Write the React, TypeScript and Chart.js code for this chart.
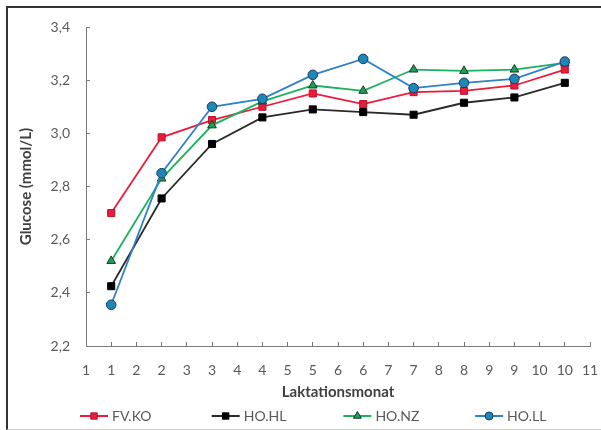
import React, { useEffect, useRef } from 'react';
import { Chart, registerables } from 'chart.js';
import { drawPoint } from 'chart.js/helpers';

Chart.register(...registerables);

const months = [1, 2, 3, 4, 5, 6, 7, 8, 9, 10];
const seriesNames = ['FV.KO', 'HO.HL', 'HO.NZ', 'HO.LL'];
const fvKo = [2.70, 2.985, 3.05, 3.10, 3.15, 3.11, 3.155, 3.16, 3.18, 3.24];
const hoHl = [2.425, 2.755, 2.96, 3.06, 3.09, 3.08, 3.07, 3.115, 3.135, 3.19];
const hoNz = [2.52, 2.83, 3.03, 3.12, 3.18, 3.16, 3.24, 3.235, 3.24, 3.265];
const hoLl = [2.355, 2.85, 3.10, 3.13, 3.22, 3.28, 3.17, 3.19, 3.205, 3.27];
const xTickLabels = ['1', '1', '2', '2', '3', '3', '4', '4', '5', '5', '6', '6', '7', '7', '8', '8', '9', '9', '10', '10', '11'];
const yTickLabels = ['2,2', '2,4', '2,6', '2,8', '3,0', '3,2', '3,4'];
const xTitle = 'Laktationsmonat';
const yTitle = 'Glucose (mmol/L)';

const FONT = 'Lato';

const toPoints = (vals: number[]) => months.map((m, i) => ({ x: m, y: vals[i] }));

const legendPlugin = {
  id: 'customLegend',
  afterDraw(chart: any) {
    const ctx = chart.ctx;
    const y = 416;
    const startX = 80;
    const step = 131.7;
    chart.data.datasets.forEach((ds: any, i: number) => {
      const x0 = startX + i * step;
      ctx.save();
      ctx.strokeStyle = ds.borderColor;
      ctx.lineWidth = 2;
      ctx.beginPath();
      ctx.moveTo(x0, y);
      ctx.lineTo(x0 + 28, y);
      ctx.stroke();
      ctx.fillStyle = ds.pointBackgroundColor;
      ctx.strokeStyle = ds.pointBorderColor;
      ctx.lineWidth = 1;
      drawPoint(ctx, { pointStyle: ds.pointStyle, radius: ds.pointStyle === 'circle' ? 4 : 4.5, rotation: 0, borderWidth: 1 }, x0 + 14, y);
      ctx.fillStyle = '#595959';
      ctx.font = `14px ${FONT}`;
      ctx.textBaseline = 'middle';
      ctx.textAlign = 'left';
      ctx.fillText(ds.label, x0 + 32, y);
      ctx.restore();
    });
  },
};

export default function App() {
  const ref = useRef<HTMLCanvasElement>(null);
  useEffect(() => {
    const chart = new Chart(ref.current as HTMLCanvasElement, {
      type: 'line',
      data: {
        datasets: [
          {
            label: seriesNames[0],
            data: toPoints(fvKo),
            borderColor: '#ec1b3b',
            backgroundColor: '#ec1b3b',
            pointBackgroundColor: '#ec1b3b',
            pointBorderColor: '#b8122c',
            pointStyle: 'rect',
            pointRadius: 5,
            borderWidth: 1.8,
            pointBorderWidth: 1,
            order: 4,
          },
          {
            label: seriesNames[1],
            data: toPoints(hoHl),
            borderColor: '#2a2a2a',
            backgroundColor: '#000000',
            pointBackgroundColor: '#000000',
            pointBorderColor: '#000000',
            pointStyle: 'rect',
            pointRadius: 5,
            borderWidth: 1.8,
            pointBorderWidth: 1,
            order: 3,
          },
          {
            label: seriesNames[2],
            data: toPoints(hoNz),
            borderColor: '#1ab25e',
            backgroundColor: '#1f9e5a',
            pointBackgroundColor: '#1f9e5a',
            pointBorderColor: '#143a24',
            pointStyle: 'triangle',
            pointRadius: 5,
            borderWidth: 1.8,
            pointBorderWidth: 1,
            order: 2,
          },
          {
            label: seriesNames[3],
            data: toPoints(hoLl),
            borderColor: '#2f80c8',
            backgroundColor: '#1d88b8',
            pointBackgroundColor: '#1d88b8',
            pointBorderColor: '#1b3a5a',
            pointStyle: 'circle',
            pointRadius: 4.8,
            borderWidth: 1.8,
            pointBorderWidth: 1,
            order: 1,
          },
        ],
      },
      options: {
        responsive: false,
        animation: false,
        devicePixelRatio: 1,
        layout: { padding: { top: 27, bottom: 28, right: 11, left: 0 } },
        plugins: {
          legend: { display: false },
          tooltip: { enabled: false },
        },
        elements: { line: { tension: 0 } },
        scales: {
          x: {
            type: 'linear',
            min: 0.5,
            max: 10.5,
            afterFit(scale: any) {
              scale.height = 56;
              scale.paddingLeft = 0;
              scale.paddingRight = 0;
            },
            ticks: {
              stepSize: 0.5,
              autoSkip: false,
              maxRotation: 0,
              padding: 20,
              color: '#595959',
              font: { family: FONT, size: 14 },
              callback: (_v: any, i: number) => xTickLabels[i] ?? '',
            },
            grid: { drawOnChartArea: false, drawTicks: true, tickLength: -4, color: '#7a7a7a' },
            border: { color: '#7a7a7a', width: 1 },
            title: {
              display: true,
              text: xTitle,
              color: '#404040',
              font: { family: FONT, size: 15, weight: 'bold' },
              padding: { top: 0, bottom: 1 },
            },
          },
          y: {
            type: 'linear',
            min: 2.2,
            max: 3.4,
            afterFit(scale: any) {
              scale.width = 86;
              scale.paddingTop = 0;
              scale.paddingBottom = 0;
            },
            ticks: {
              stepSize: 0.2,
              padding: 20,
              color: '#595959',
              font: { family: FONT, size: 14 },
              callback: (_v: any, i: number) => yTickLabels[i] ?? '',
            },
            grid: { drawOnChartArea: false, drawTicks: true, tickLength: -4, color: '#7a7a7a' },
            border: { color: '#7a7a7a', width: 1 },
            title: {
              display: true,
              text: yTitle,
              color: '#404040',
              font: { family: FONT, size: 15, weight: 'bold' },
              padding: { top: 17, bottom: 0 },
            },
          },
        },
      },
      plugins: [legendPlugin],
    } as any);
    return () => chart.destroy();
  }, []);

  return (
    <div style={{ position: 'absolute', left: 0, top: 0, width: 601, height: 430, overflow: 'hidden', background: '#ffffff' }}>
      <div
        style={{
          position: 'absolute',
          left: 6,
          top: 6,
          width: 640,
          height: 421,
          borderTop: '2px solid #333333',
          borderLeft: '2px solid #333333',
          borderBottom: '1px solid #cfcfcf',
        }}
      />
      <canvas ref={ref} width={601} height={430} style={{ position: 'absolute', left: 0, top: 0 }} />
    </div>
  );
}
